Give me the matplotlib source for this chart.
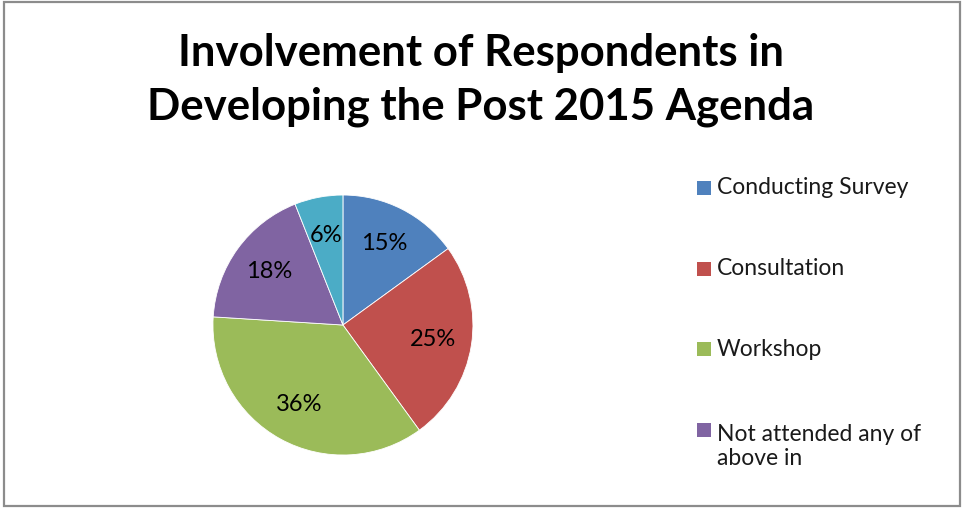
import matplotlib
matplotlib.use("Agg")
import matplotlib.pyplot as plt
from matplotlib.patches import Rectangle

# survey responses (percent)
categories = ["Conducting Survey", "Consultation", "Workshop",
              "Not attended any of\nabove in", "Other"]
shares = [15, 25, 36, 18, 6]
colors = ["#4F81BD", "#C0504D", "#9BBB59", "#8064A2", "#4BACC6"]
legend_count = 4  # the last entry does not fit in the legend box

plt.rcParams["font.family"] = ["Lato", "DejaVu Sans"]

W, H = 964, 508
fig = plt.figure(figsize=(W / 100, H / 100), dpi=100)

# grey frame around the whole chart area
fig.patches.append(Rectangle((0.004, 0.004), 0.992, 0.992, transform=fig.transFigure,
                             fill=False, edgecolor="#8c8c8c", linewidth=1.6))

fig.text(481 / W, 1 - 80 / H, "Involvement of Respondents in\nDeveloping the Post 2015 Agenda",
         ha="center", va="center", fontsize=31.5, fontweight="bold",
         linespacing=1.4, color="black")

ax = fig.add_axes([0.2209, 0.1043, 0.2697, 0.5118])
wedges, texts = ax.pie(shares, colors=colors, startangle=90, counterclock=False,
                       radius=1.0, labels=[f"{v}%" for v in shares],
                       labeldistance=0.7,
                       wedgeprops=dict(edgecolor="white", linewidth=0.6),
                       textprops=dict(fontsize=17, color="black", ha="center", va="center"))
ax.set_xlim(-1, 1)
ax.set_ylim(-1, 1)
ax.set_aspect("equal")

# legend: square marker beside the first line of each entry
row0, row_gap, line_gap = 188, 80.7, 32
for i in range(legend_count):
    yc = row0 + i * row_gap
    fig.patches.append(Rectangle((697 / W, 1 - (yc + 7) / H), 14 / W, 14 / H,
                                 transform=fig.transFigure, facecolor=colors[i],
                                 edgecolor="none"))
    nlines = categories[i].count("\n") + 1
    fig.text(717 / W, 1 - (yc + (nlines - 1) * line_gap / 2) / H, categories[i],
             ha="left", va="center", fontsize=16.5, color="#1a1a1a",
             linespacing=1.17)

fig.savefig("out.png", dpi=100)
